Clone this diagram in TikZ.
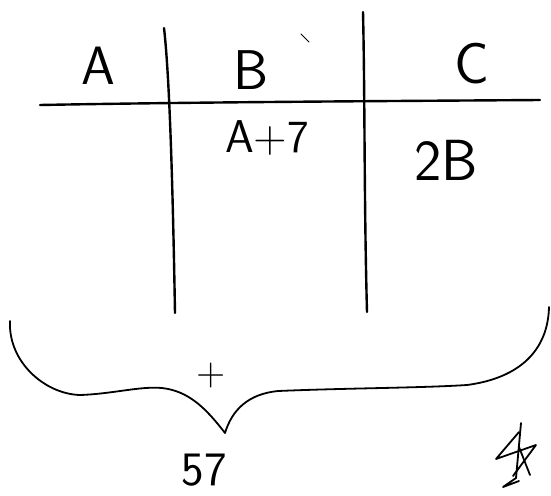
\documentclass[tikz,border=0pt]{standalone}
\begin{document}
\begin{tikzpicture}[x=1pt,y=-1pt,
  ink/.style={line width=2.4pt,line cap=round,line join=round},
  thin ink/.style={line width=1.8pt,line cap=round,line join=round},
  hand/.style={inner sep=0pt,font=\sffamily\fontsize{#1}{#1}\selectfont}]
\useasboundingbox (0,0) rectangle (551,495);

% table rules
\coordinate (hl) at (40,105);
\coordinate (hr) at (540,100);
\coordinate (v1t) at (164,28);
\coordinate (v1b) at (175,313);
\coordinate (v2t) at (363,12);
\coordinate (v2b) at (367,312);
\draw[ink] (hl) .. controls (200,102) and (400,101) .. (hr);
\draw[ink] (v1t) .. controls (170,80) and (173,200) .. (v1b);
\draw[ink] (v2t) .. controls (365,100) and (364,200) .. (v2b);

% column heads and entries
\node[hand=54] (colA) at (98,66) {A};
\node[hand=56] (colB) at (251,70) {B};
\node[hand=58] (colC) at (472,64) {C};
\node[hand=46] (bval) at (267,138) {A+7};
\node[hand=58] (cval) at (446,160) {2B};

% brace under the table
\coordinate (brL) at (10,321);
\coordinate (tip) at (225,433);
\coordinate (brR) at (549,307);
\draw[thin ink] (brL) .. controls (8,362) and (45,394) .. (80,395)
  .. controls (112,394) and (140,386) .. (162,388)
  .. controls (188,391) and (205,407) .. (tip)
  .. controls (232,410) and (248,394) .. (278,391)
  .. controls (350,388) and (420,388) .. (467,385)
  .. controls (520,378) and (548,350) .. (brR);
\node[hand=40] (plus) at (211,376) {+};
\node[hand=48] (sum) at (204,470) {57};

% initials
\draw[thin ink] (521,423) -- (516,478) -- (503,487) -- (519,481);
\draw[thin ink] (519,432) -- (496,459) -- (536,445) -- (513,476);
\draw[thin ink] (519,447) -- (530,475);
\draw[line width=1pt,line cap=round] (301,34) -- (309,42);
\end{tikzpicture}
\end{document}
